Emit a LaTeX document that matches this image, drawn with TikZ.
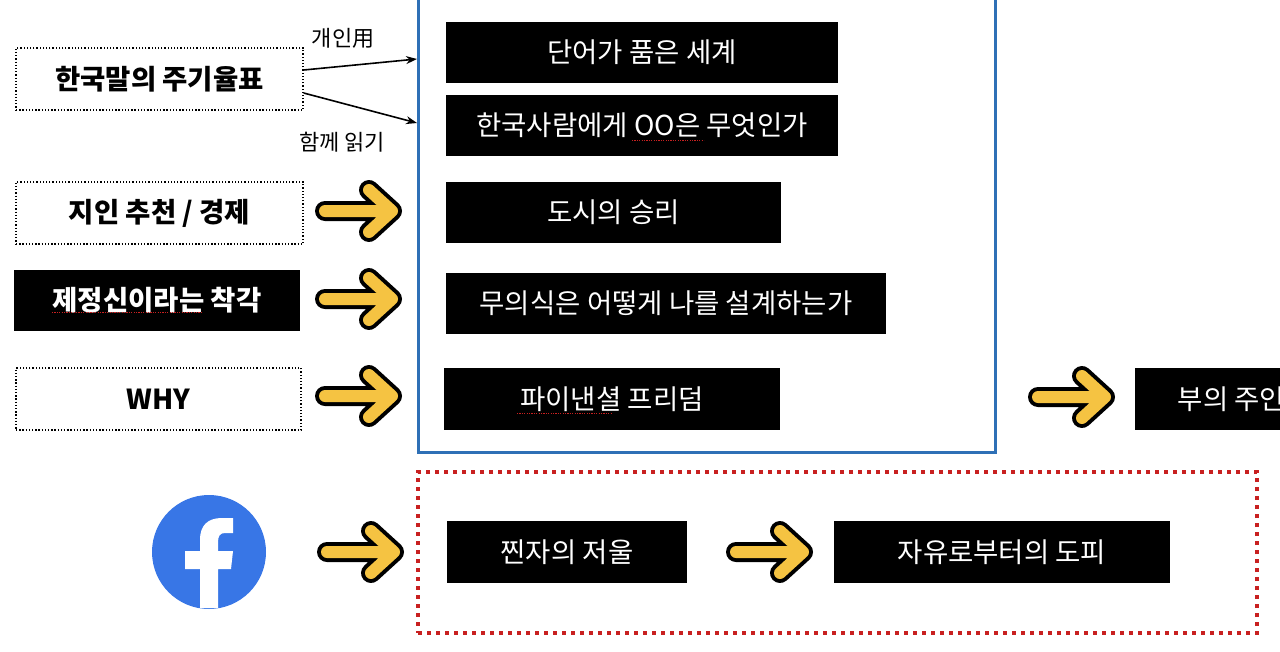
\documentclass[tikz,border=0pt]{standalone}
\usepackage{fontspec}
\setmainfont{Noto Sans CJK KR}
\usetikzlibrary{positioning,arrows.meta}
\definecolor{fbblue}{RGB}{56,118,230}
\definecolor{shelfblue}{RGB}{46,112,182}
\definecolor{clubred}{RGB}{200,32,32}
\definecolor{arrowyellow}{RGB}{245,195,66}

\begin{document}
\begin{tikzpicture}[x=1pt,y=-1pt,semithick,>={Stealth[length=11pt,width=8pt]}]
\tikzstyle{book}=[fill=black,text=white,minimum height=61pt,inner sep=0pt,font=\fontsize{27.5}{32}\selectfont]
\tikzstyle{src}=[draw=black,line width=1.3pt,dash pattern=on 1.3pt off 1.9pt,minimum width=287pt,minimum height=62pt,inner sep=0pt,font=\fontsize{27.5}{32}\bfseries\selectfont]
\tikzstyle{note}=[font=\fontsize{22}{25}\selectfont]
\tikzstyle{typo}=[clubred,line width=1pt,dash pattern=on 1.2pt off 1.2pt]
\tikzset{yarrow/.pic={
  \draw[line width=20pt,line cap=round,line join=round] (-34,0) -- (33,0) (10,-21) -- (33,0) -- (10,21);
  \draw[arrowyellow,line width=12pt,line cap=round,line join=round] (-34,0) -- (33,0) (10,-21) -- (33,0) -- (10,21);
}}
\clip (0,0) rectangle (1280,651);
% frames
\node[draw=shelfblue,line width=3pt,minimum width=577pt,minimum height=472pt] (shelf) at (706.5,216) {};
\node[draw=clubred,line width=3.5pt,dash pattern=on 4pt off 5pt,minimum width=839pt,minimum height=161pt] (club) at (837.5,552.5) {};
% sources
\node[src] (l1) at (159.5,79) {한국말의 주기율표};
\node[src] (l2) at (159.5,213) {지인 추천 / 경제};
\node[src,draw=none,fill=black,text=white,minimum width=286pt,minimum height=61pt] (l3) at (157,300.5) {제정신이라는 착각};
\node[src,minimum width=285pt] (l4) at (158.5,399) {WHY};
\node[circle,fill=fbblue,minimum size=114pt,inner sep=0pt] (fb) at (209,552) {};
\fill[white,shift={(fb.center)}] (-9,56) -- (-9,17) -- (-24,17) -- (-24,-1) -- (-9,-1) -- (-9,-12)
  .. controls (-9,-27) and (-1,-34) .. (13,-34) -- (24,-34) -- (24,-19) -- (16,-19)
  .. controls (11,-19) and (9,-16) .. (9,-10) -- (9,-1) -- (24,-1) -- (22,17) -- (9,17) -- (9,56) -- cycle;
% books
\node[book,minimum width=392pt] (b1) at (642,52.5) {단어가 품은 세계};
\node[book,minimum width=392pt] (b2) at (642,125.5) {한국사람에게 OO은 무엇인가};
\node[book,minimum width=335pt] (b3) at (613.5,212.5) {도시의 승리};
\node[book,minimum width=440pt] (b4) at (666,303.5) {무의식은 어떻게 나를 설계하는가};
\node[book,minimum width=336pt,minimum height=62pt] (b5) at (612,399) {파이낸셜 프리덤};
\node[book,minimum width=193pt,minimum height=62pt] (r1) at (1231.5,399) {부의 주인};
\node[book,minimum width=240pt,minimum height=62pt] (c1) at (567,552) {찐자의 저울};
\node[book,minimum width=336pt,minimum height=62pt] (c2) at (1002,552) {자유로부터의 도피};
% spelling marks
\draw[typo] (632,140) -- (704,140);
\draw[typo] (52,312) -- (203,312);
\draw[typo] (517,413) -- (612,413);
% links
\coordinate (in1) at (417,59);
\coordinate (in2) at (417,123);
\path[->,line width=1.6pt]
([yshift=9pt]l1.east) edge (in1)
([yshift=-14pt]l1.east) edge (in2);
\node[note] (personal) at (343,38) {개인用};
\node[note] (together) at (342,142) {함께 읽기};
\pic at (359,211) {yarrow};
\pic at (359,299) {yarrow};
\pic at (359,396) {yarrow};
\pic at (1072,397) {yarrow};
\pic at (361,552) {yarrow};
\pic at (770,552) {yarrow};
\end{tikzpicture}
\end{document}
